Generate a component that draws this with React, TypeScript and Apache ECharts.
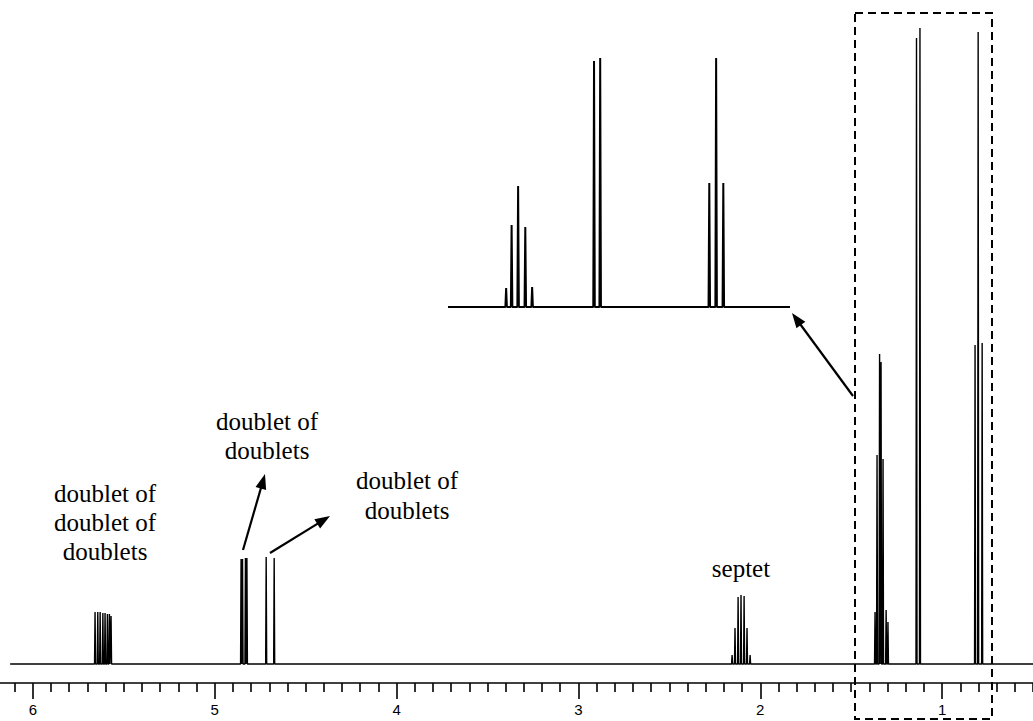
import React, { useEffect, useRef } from 'react';
import * as echarts from 'echarts';

// ---- Main spectrum: peak positions (ppm) and intensities ----
const dddPpm = [5.658, 5.643, 5.63, 5.615, 5.603, 5.59, 5.579, 5.57];
const dddInt = [52, 52, 52, 51, 51, 50, 50, 48];
const dd1Ppm = [4.855, 4.847, 4.831, 4.823];
const dd1Int = [105, 105, 106, 106];
const dd2Ppm = [4.717, 4.673];
const dd2Int = [107, 106];
const septetPpm = [2.155, 2.139, 2.122, 2.106, 2.089, 2.073, 2.056];
const septetInt = [9, 36, 67, 69, 68, 36, 9];
const multPpm = [1.369, 1.358, 1.344, 1.336, 1.325, 1.308, 1.298];
const multInt = [52, 209, 310, 302, 205, 54, 42];
const doubletPpm = [1.141, 1.122];
const doubletInt = [626, 636];
const tripletPpm = [0.819, 0.802, 0.78];
const tripletInt = [319, 632, 321];

// ---- Inset (expansion of the boxed region) ----
const insetMultPpm = [1.43, 1.414, 1.395, 1.374, 1.354];
const insetMultInt = [19, 82, 121, 80, 20];
const insetDoubletPpm = [1.173, 1.155];
const insetDoubletInt = [246, 249];
const insetTripletPpm = [0.836, 0.816, 0.795];
const insetTripletInt = [124, 249, 124];

// ---- Axis tick labels shown (ppm) ----
const tickLabels = [1, 2, 3, 4, 5, 6];

// ---- Labels ----
const labelDdd = 'doublet of\ndoublet of\ndoublets';
const labelDd = 'doublet of\ndoublets';
const labelSeptet = 'septet';

type Group = [number[], number[]];

function buildSpectrum(groups: Group[], from: number, to: number, hw: number) {
  const peaks: number[][] = [];
  groups.forEach(([p, h]) => p.forEach((v, i) => peaks.push([v, h[i]])));
  peaks.sort((a, b) => b[0] - a[0]);
  const pts: number[][] = [[from, 0]];
  peaks.forEach(([v, h]) => {
    pts.push([v + hw, 0], [v, h], [v - hw, 0]);
  });
  pts.push([to, 0]);
  return pts;
}

function arrow(x1: number, y1: number, x2: number, y2: number, head = 15, half = 5.5) {
  const dx = x2 - x1;
  const dy = y2 - y1;
  const L = Math.hypot(dx, dy);
  const ux = dx / L;
  const uy = dy / L;
  const bx = x2 - ux * head;
  const by = y2 - uy * head;
  return [
    { type: 'line', shape: { x1, y1, x2: bx + ux * 2, y2: by + uy * 2 }, style: { stroke: '#000', lineWidth: 2.2 } },
    {
      type: 'polygon',
      shape: { points: [[x2, y2], [bx - uy * half, by + ux * half], [bx + uy * half, by - ux * half]] },
      style: { fill: '#000' },
    },
  ];
}

export default function App() {
  const ref = useRef<HTMLDivElement>(null);

  useEffect(() => {
    if (!ref.current) return;
    const chart = echarts.init(ref.current, undefined, { renderer: 'svg' });

    const mainData = buildSpectrum(
      [
        [dddPpm, dddInt],
        [dd1Ppm, dd1Int],
        [dd2Ppm, dd2Int],
        [septetPpm, septetInt],
        [multPpm, multInt],
        [doubletPpm, doubletInt],
        [tripletPpm, tripletInt],
      ],
      6.125,
      0,
      0.0028
    );
    const insetData = buildSpectrum(
      [
        [insetMultPpm, insetMultInt],
        [insetDoubletPpm, insetDoubletInt],
        [insetTripletPpm, insetTripletInt],
      ],
      1.6,
      0.6,
      0.0022
    );

    const serif = '"Liberation Serif", "Times New Roman", serif';
    const textStyle = (text: string, lh: number) => ({
      text,
      fontFamily: serif,
      fontSize: 25,
      lineHeight: lh,
      fill: '#000',
      align: 'center',
      verticalAlign: 'middle',
    });

    chart.setOption({
      animation: false,
      backgroundColor: '#fff',
      grid: [
        { left: -149, right: -91, top: 14, bottom: 38, outerBoundsMode: 'none', containLabel: false },
        { left: 448, top: 40, width: 342, height: 267, outerBoundsMode: 'none', containLabel: false },
      ],
      xAxis: [
        {
          type: 'value',
          gridIndex: 0,
          min: 0,
          max: 7,
          interval: 1,
          inverse: true,
          position: 'bottom',
          axisLine: { show: true, onZero: false, lineStyle: { color: '#000', width: 1.6 } },
          axisTick: { show: true, length: 16, lineStyle: { color: '#000', width: 1.6 } },
          minorTick: { show: true, splitNumber: 10, length: 9, lineStyle: { color: '#000', width: 1.6 } },
          splitLine: { show: false },
          minorSplitLine: { show: false },
          axisLabel: {
            margin: 19,
            color: '#000',
            fontSize: 15,
            fontFamily: '"Liberation Sans", Arial, sans-serif',
            formatter: (v: number) => (tickLabels.indexOf(v) >= 0 ? String(v) : ''),
          },
        },
        { type: 'value', gridIndex: 1, min: 0.6, max: 1.6, inverse: true, show: false },
      ],
      yAxis: [
        { type: 'value', gridIndex: 0, min: -19, max: 650, show: false },
        { type: 'value', gridIndex: 1, min: 0, max: 267, show: false },
      ],
      series: [
        {
          type: 'line',
          xAxisIndex: 0,
          yAxisIndex: 0,
          data: mainData,
          showSymbol: false,
          symbol: 'none',
          lineStyle: { color: '#000', width: 1.4 },
          silent: true,
        },
        {
          type: 'line',
          xAxisIndex: 1,
          yAxisIndex: 1,
          data: insetData,
          showSymbol: false,
          symbol: 'none',
          lineStyle: { color: '#000', width: 2 },
          silent: true,
        },
      ],
      graphic: [
        {
          type: 'rect',
          shape: { x: 855, y: 13, width: 137, height: 706 },
          style: { fill: 'none', stroke: '#000', lineWidth: 2, lineDash: [8, 5] },
        },
        ...arrow(853, 396, 792, 313),
        ...arrow(243, 550, 265, 474),
        ...arrow(270, 553, 330, 516),
        { type: 'text', x: 105, y: 522, style: textStyle(labelDdd, 29) },
        { type: 'text', x: 267, y: 436, style: textStyle(labelDd, 29) },
        { type: 'text', x: 407, y: 495, style: textStyle(labelDd, 30) },
        { type: 'text', x: 741, y: 568, style: textStyle(labelSeptet, 29) },
      ],
    });

    return () => chart.dispose();
  }, []);

  return (
    <div
      ref={ref}
      style={{ position: 'fixed', left: 0, top: 0, width: 1033, height: 721, background: '#fff' }}
    />
  );
}
